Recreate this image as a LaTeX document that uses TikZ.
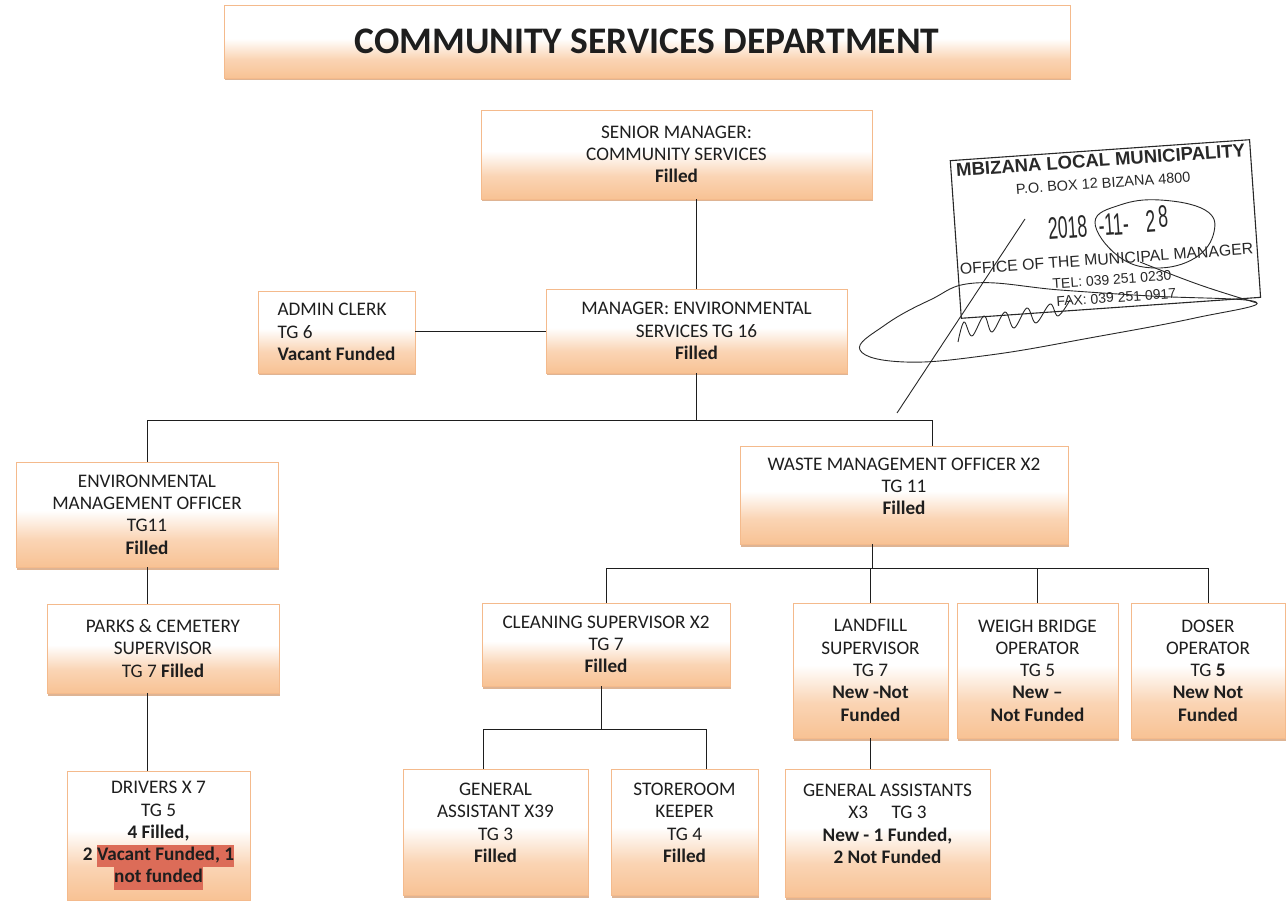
\documentclass[tikz,border=0pt]{standalone}
\usepackage{fontspec}
\usepackage{graphicx}
\setmainfont{Carlito}
\newfontfamily\stampfont{Liberation Sans}
\usetikzlibrary{shadows}

\definecolor{peach}{RGB}{248,194,148}
\definecolor{boxline}{RGB}{244,186,140}
\definecolor{boxshadow}{RGB}{214,162,122}
\definecolor{ink}{RGB}{30,30,30}
\definecolor{hlred}{RGB}{220,108,88}
\definecolor{stampink}{RGB}{40,40,40}

\pgfdeclareverticalshading{postfill}{100bp}{color(0bp)=(peach); color(25bp)=(peach); color(38bp)=(peach!70!white); color(52bp)=(white); color(100bp)=(white)}

\newcommand{\hlbox}[1]{{\setlength{\fboxsep}{0pt}\colorbox{hlred}{\strut #1}}}

\tikzset{
  post/.style={draw=boxline, line width=0.8pt, shading=postfill,
    drop shadow={shadow xshift=1pt, shadow yshift=-2.5pt, fill=boxshadow, opacity=0.8},
    align=center, text=ink, inner sep=3pt,
    font=\fontsize{19.2}{22.3}\selectfont},
  link/.style={draw=ink, line width=1pt},
  stamptext/.style={text=stampink, inner sep=0pt},
  sig/.style={draw=stampink, line width=0.9pt},
}

\begin{document}
\begin{tikzpicture}[x=1pt, y=-1pt]
    \useasboundingbox (0,0) rectangle (1286,901);
    \fill[white] (0,0) rectangle (1286,901);

    % Heading and top posts
    \node[post, minimum width=846pt, minimum height=73pt, font=\fontsize{37.5}{42}\selectfont\bfseries] (title) at (647,41.5) {COMMUNITY SERVICES DEPARTMENT};
    \node[post, minimum width=391pt, minimum height=89pt] (senior) at (676.5,154.5) {SENIOR MANAGER:\\COMMUNITY SERVICES\\\textbf{Filled}};
    \node[post, minimum width=301pt, minimum height=84pt] (mgr) at (696.5,331) {MANAGER: ENVIRONMENTAL\\SERVICES TG 16\\\textbf{Filled}};
    \node[post, align=left, minimum width=157pt, minimum height=82pt] (admin) at (336.5,332) {ADMIN CLERK\\TG 6\\\textbf{Vacant Funded}};

    % Officers
    \node[post, minimum width=262pt, minimum height=105pt] (env) at (147,514.5) {ENVIRONMENTAL\\MANAGEMENT OFFICER\\TG11\\\textbf{Filled}};
    \node[post, minimum width=328pt, minimum height=98pt] (waste) at (904,495) {WASTE MANAGEMENT OFFICER X2\\TG 11\\\textbf{Filled}\\[-5pt]\mbox{}};

    % Supervisors and operators
    \node[post, minimum width=232pt, minimum height=89pt] (parks) at (163,648.5) {PARKS \& CEMETERY\\SUPERVISOR\\TG 7 \textbf{Filled}};
    \node[post, minimum width=248pt, minimum height=83pt] (cleaning) at (606,644.5) {CLEANING SUPERVISOR X2\\TG 7\\\textbf{Filled}};
    \node[post, minimum width=155pt, minimum height=135pt] (landfill) at (870.5,670.5) {LANDFILL\\SUPERVISOR\\TG 7\\\textbf{New -Not}\\\textbf{Funded}};
    \node[post, minimum width=161pt, minimum height=135pt] (weigh) at (1037.5,670.5) {WEIGH BRIDGE\\OPERATOR\\TG 5\\\textbf{New –}\\\textbf{Not Funded}};
    \node[post, minimum width=154pt, minimum height=135pt] (doser) at (1208,670.5) {DOSER\\OPERATOR\\TG \textbf{5}\\\textbf{New Not}\\\textbf{Funded}};

    % Bottom row
    \node[post, minimum width=183pt, minimum height=129pt] (drivers) at (158.5,835.5) {DRIVERS X 7\\TG 5\\\textbf{4 Filled,}\\\textbf{2 \hlbox{Vacant Funded, 1}}\\\textbf{\hlbox{not funded}}};
    \node[post, minimum width=185pt, minimum height=126pt] (genasst) at (495.5,832) {GENERAL\\ASSISTANT X39\\TG 3\\\textbf{Filled}\\[-4pt]\mbox{}};
    \node[post, minimum width=147pt, minimum height=126pt] (store) at (684.5,832) {STOREROOM\\KEEPER\\TG 4\\\textbf{Filled}\\[-4pt]\mbox{}};
    \node[post, minimum width=205pt, minimum height=128pt] (genassts) at (887.5,833) {GENERAL ASSISTANTS\\X3\quad\ TG 3\\\textbf{New - 1 Funded,}\\\textbf{2 Not Funded}\\[-4pt]\mbox{}};

    % Reporting lines
    \draw[link] (senior.south -| mgr.north) -- (mgr.north);
    \draw[link] (admin.east) -- (admin.east -| mgr.west);
    \draw[link] (mgr.south) -- ++(0,47) coordinate (bar1);
    \draw[link] (env.north) |- (bar1) -| ([xshift=28pt]waste.north);
    \draw[link] (env.south) -- (env.south |- parks.north);
    \draw[link] (parks.south -| env.south) -- (drivers.north -| env.south);
    \draw[link] ([xshift=-32pt]waste.south) -- ++(0,24) coordinate (bar2);
    \foreach \n in {cleaning, landfill, weigh, doser}
        \draw[link] (\n.north) |- (bar2);
    \draw[link] ([xshift=-5pt]cleaning.south) -- ++(0,43) coordinate (bar3);
    \draw[link] ([xshift=-12pt]genasst.north) |- (bar3) -| ([xshift=22pt]store.north);
    \draw[link] (landfill.south) -- (landfill.south |- genassts.north);

    % Stamp
    \begin{scope}[shift={(1105.5,230)}, rotate=4, transform shape]
        \draw[stampink, line width=1.1pt] (-150,-80) rectangle (150,78);
        \node[stamptext, font=\stampfont\fontsize{18.5}{20}\selectfont\bfseries] (st1) at (0,-70) {MBIZANA LOCAL MUNICIPALITY};
        \node[stamptext, font=\stampfont\fontsize{14.5}{16}\selectfont] (st2) at (1,-47) {P.O. BOX 12 BIZANA 4800};
        \node[stamptext, font=\stampfont\fontsize{31}{33}\selectfont] (st3) at (3,-7) {\scalebox{0.57}[1]{2018\hspace{20pt}-11-\hspace{30pt}2\,\raisebox{4pt}{8}}};
        \node[stamptext, font=\stampfont\fontsize{15.8}{17}\selectfont] (st4) at (-1,29) {OFFICE OF THE MUNICIPAL MANAGER};
        \node[stamptext, font=\stampfont\fontsize{14}{15}\selectfont] (st5) at (3,50) {TEL: 039 251 0230};
        \node[stamptext, font=\stampfont\fontsize{14}{15}\selectfont] (st6) at (6,68) {FAX: 039 251 0917};
    \end{scope}

    % Signature
    \draw[sig] plot[smooth cycle, tension=0.7] coordinates {(860,350) (885,325) (930,300) (975,283) (1060,290) (1150,296) (1256,302) (1195,318) (1095,337) (990,355) (905,362)};
    \draw[sig] (897,413) -- (1025,219);
    \draw[sig] plot[smooth cycle, tension=0.7] coordinates {(1095,222) (1120,205) (1160,200) (1205,210) (1214,232) (1195,258) (1155,268) (1118,256)};
    \draw[sig] plot[smooth, tension=0.7] coordinates {(1140,262) (1200,285) (1257,303)};
    \draw[sig] plot[smooth, tension=0.6] coordinates {(958,342) (964,322) (972,336) (984,316) (992,332) (1005,312) (1014,328) (1027,308) (1036,323) (1050,304) (1058,316) (1070,300)};
\end{tikzpicture}
\end{document}
